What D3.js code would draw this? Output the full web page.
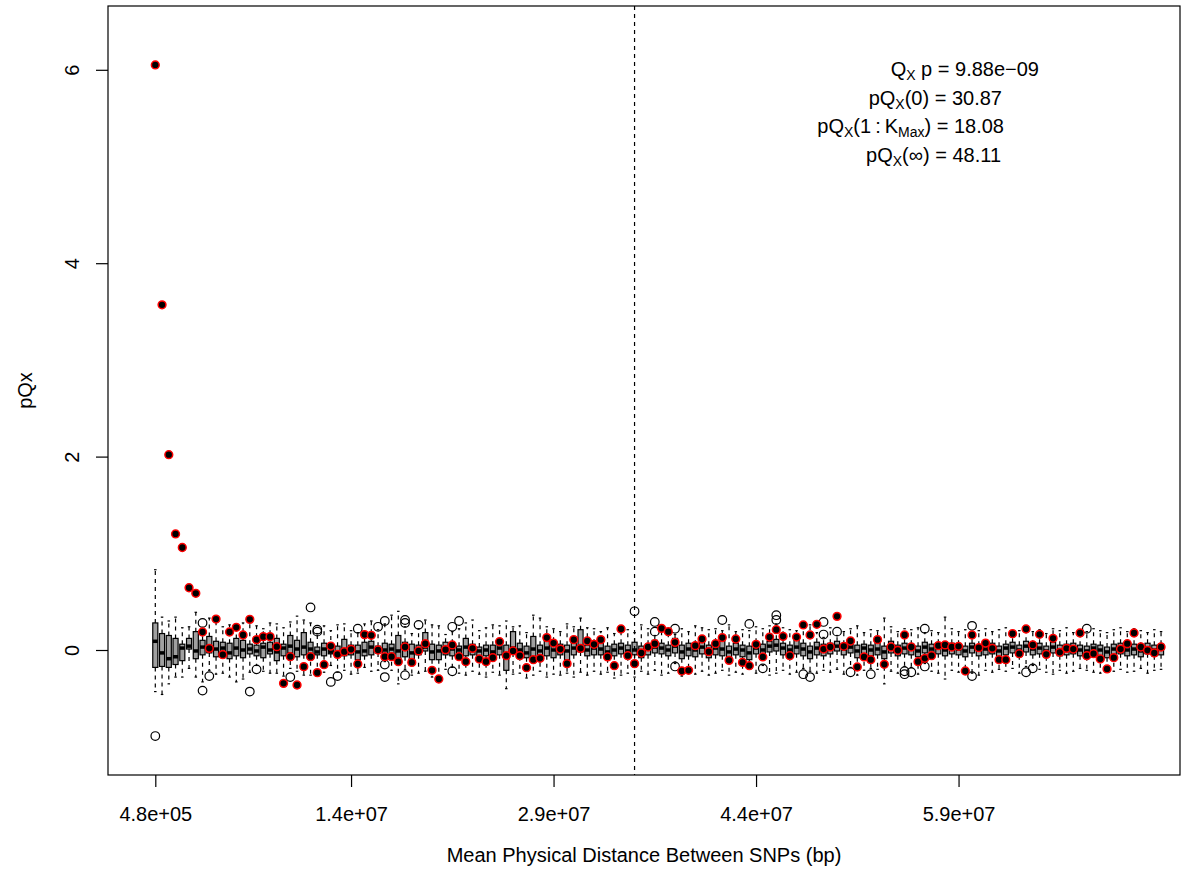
<!DOCTYPE html>
<html>
<head>
<meta charset="utf-8">
<script src="https://cdn.jsdelivr.net/npm/d3@7"></script>
<style>
  body { margin: 0; background: #fff; }
  text { font-family: "Liberation Sans", Arial, Helvetica, sans-serif; fill: #000; }
</style>
</head>
<body>
<svg id="chart" width="1193" height="878"></svg>
<script>
// ---- data -------------------------------------------------------------
// distance bins (boxplot positions)
const bins = d3.range(1, 151);

// x-axis ticks: bin position and mean physical distance label
const xTickBins = [1, 30, 60, 90, 120];
const xTickLabels = ["4.8e+05", "1.4e+07", "2.9e+07", "4.4e+07", "5.9e+07"];
const yTicks = [0, 2, 4, 6];

// null distribution per bin: hinges, median, whisker ends
const boxQ1 = [
  -0.18,-0.17,-0.18,-0.15,-0.11, 0.01,-0.09,-0.05,-0.03,-0.07,
  -0.05,-0.09,-0.06,-0.08,-0.04,-0.06,-0.08,-0.04,-0.11,-0.06,
  -0.03,-0.07,-0.05,-0.04,-0.05,-0.06,-0.04,-0.07,-0.06,-0.05,
  -0.10,-0.06,-0.05,-0.03,-0.08,-0.04,-0.11,-0.07,-0.12,-0.05,
  -0.01,-0.10,-0.10,-0.05,-0.06,-0.07,-0.06,-0.05,-0.06,-0.06,
  -0.07,-0.05,-0.21,-0.03,-0.07,-0.08,-0.09,-0.05,-0.06,-0.08,
  -0.05,-0.10,-0.05,-0.02,-0.06,-0.05,-0.05,-0.09,-0.06,-0.04,
  -0.07,-0.05,-0.08,-0.05,-0.03,-0.04,-0.06,-0.03,-0.09,-0.06,
  -0.07,-0.04,-0.08,-0.05,-0.06,-0.10,-0.05,-0.07,-0.10,-0.04,
  -0.07,-0.02,-0.01,-0.05,-0.07,-0.04,-0.06,-0.09,-0.05,-0.06,
  -0.04,-0.01,-0.05,-0.03,-0.08,-0.04,-0.06,-0.05,-0.09,-0.03,
  -0.06,-0.04,-0.05,-0.07,-0.03,-0.05,-0.04,-0.06,-0.04,-0.05,
  -0.07,-0.03,-0.06,-0.05,-0.04,-0.07,-0.05,-0.03,-0.06,-0.02,
  -0.05,-0.04,-0.07,-0.03,-0.06,-0.05,-0.04,-0.06,-0.07,-0.04,
  -0.06,-0.08,-0.05,-0.04,-0.06,-0.05,-0.07,-0.04,-0.06,-0.05
];
const boxMedian = [
   0.09,-0.03,-0.09,-0.07, 0.02, 0.04,-0.01, 0.03, 0.02, 0.01,
   0.02,-0.03, 0.02, 0.00, 0.01,-0.01, 0.03, 0.00,-0.02, 0.02,
   0.04, 0.01, 0.03, 0.01,-0.02, 0.01,-0.02,-0.03, 0.00, 0.00,
  -0.02,-0.01, 0.03, 0.02, 0.00, 0.01,-0.01, 0.02,-0.03, 0.01,
   0.03,-0.02,-0.01, 0.02, 0.01, 0.00, 0.03, 0.01,-0.01, 0.00,
  -0.02, 0.02,-0.04, 0.02, 0.00,-0.03, 0.01,-0.01, 0.02, 0.00,
   0.01,-0.01, 0.02, 0.04, 0.00, 0.02, 0.01,-0.02, 0.00, 0.02,
  -0.01, 0.00,-0.02, 0.01, 0.03, 0.02, 0.00, 0.04,-0.02, 0.01,
   0.00, 0.03,-0.01, 0.02, 0.01,-0.02, 0.01, 0.00,-0.03, 0.02,
   0.00, 0.04, 0.05, 0.02, 0.00, 0.03, 0.01,-0.02, 0.02, 0.00,
   0.02, 0.04, 0.01, 0.03,-0.01, 0.02, 0.00, 0.01,-0.02, 0.03,
   0.00, 0.02, 0.01,-0.01, 0.03, 0.01, 0.02, 0.00, 0.02, 0.01,
  -0.01, 0.03, 0.00, 0.01, 0.02,-0.01, 0.02, 0.03, 0.00, 0.04,
   0.01, 0.02,-0.01, 0.03, 0.00, 0.01, 0.02, 0.00,-0.01, 0.02,
   0.00,-0.02, 0.01, 0.02, 0.00, 0.01,-0.01, 0.02, 0.00, 0.01
];
const boxQ3 = [
  0.28,0.17,0.15,0.12,0.06,0.12,0.19,0.10,0.14,0.09,
  0.08,0.07,0.12,0.10,0.06,0.05,0.07,0.08,0.12,0.06,
  0.15,0.10,0.18,0.08,0.03,0.07,0.02,0.04,0.11,0.05,
  0.05,0.08,0.09,0.04,0.07,0.06,0.15,0.08,0.06,0.05,
  0.18,0.06,0.05,0.08,0.07,0.04,0.12,0.06,0.03,0.05,
  0.05,0.08,0.05,0.19,0.07,0.04,0.14,0.05,0.09,0.09,
  0.06,0.05,0.10,0.21,0.05,0.07,0.09,0.04,0.06,0.07,
  0.05,0.08,0.04,0.06,0.10,0.07,0.05,0.12,0.05,0.07,
  0.06,0.11,0.05,0.08,0.09,0.04,0.07,0.05,0.04,0.08,
  0.06,0.09,0.11,0.07,0.05,0.10,0.07,0.04,0.08,0.06,
  0.07,0.09,0.06,0.08,0.05,0.06,0.05,0.07,0.04,0.09,
  0.05,0.07,0.06,0.04,0.08,0.06,0.07,0.05,0.07,0.06,
  0.04,0.07,0.05,0.06,0.07,0.04,0.06,0.08,0.05,0.09,
  0.06,0.07,0.04,0.08,0.05,0.06,0.07,0.05,0.04,0.06,
  0.05,0.03,0.06,0.07,0.05,0.06,0.04,0.07,0.05,0.06
];
const whiskerLow = [
  -0.43,-0.46,-0.35,-0.28,-0.28,-0.19,-0.28,-0.33,-0.21,-0.25,
  -0.24,-0.28,-0.33,-0.30,-0.23,-0.16,-0.22,-0.24,-0.24,-0.27,
  -0.19,-0.22,-0.26,-0.26,-0.22,-0.23,-0.16,-0.23,-0.21,-0.25,
  -0.24,-0.18,-0.22,-0.21,-0.12,-0.21,-0.35,-0.20,-0.26,-0.24,
  -0.22,-0.28,-0.31,-0.20,-0.18,-0.24,-0.26,-0.22,-0.25,-0.28,
  -0.23,-0.26,-0.40,-0.25,-0.24,-0.29,-0.26,-0.22,-0.28,-0.25,
  -0.26,-0.24,-0.28,-0.23,-0.26,-0.22,-0.25,-0.23,-0.29,-0.26,
  -0.24,-0.28,-0.22,-0.25,-0.21,-0.26,-0.24,-0.14,-0.27,-0.23,
  -0.25,-0.22,-0.26,-0.24,-0.21,-0.26,-0.23,-0.25,-0.20,-0.24,
  -0.16,-0.26,-0.24,-0.21,-0.25,-0.23,-0.19,-0.22,-0.24,-0.21,
  -0.23,-0.20,-0.25,-0.18,-0.26,-0.21,-0.19,-0.20,-0.35,-0.22,
  -0.24,-0.17,-0.18,-0.25,-0.14,-0.22,-0.24,-0.30,-0.21,-0.23,
  -0.20,-0.24,-0.26,-0.21,-0.23,-0.20,-0.22,-0.19,-0.24,-0.17,
  -0.16,-0.20,-0.23,-0.25,-0.21,-0.24,-0.22,-0.19,-0.21,-0.23,
  -0.24,-0.21,-0.22,-0.20,-0.23,-0.22,-0.19,-0.24,-0.21,-0.20
];
const whiskerHigh = [
  0.83,0.34,0.30,0.34,0.23,0.24,0.39,0.22,0.33,0.31,
  0.24,0.26,0.26,0.28,0.33,0.25,0.22,0.28,0.27,0.23,
  0.29,0.35,0.31,0.28,0.17,0.25,0.20,0.26,0.27,0.20,
  0.18,0.27,0.30,0.21,0.27,0.36,0.40,0.24,0.17,0.22,
  0.31,0.26,0.25,0.16,0.19,0.22,0.28,0.31,0.20,0.23,
  0.26,0.25,0.30,0.24,0.25,0.18,0.36,0.33,0.24,0.22,
  0.19,0.27,0.24,0.33,0.23,0.22,0.19,0.23,0.17,0.24,
  0.21,0.18,0.26,0.22,0.15,0.20,0.21,0.16,0.22,0.19,
  0.25,0.23,0.21,0.22,0.20,0.26,0.19,0.21,0.20,0.24,
  0.22,0.25,0.27,0.23,0.21,0.20,0.24,0.26,0.18,0.13,
  0.23,0.15,0.19,0.22,0.25,0.18,0.21,0.20,0.33,0.24,
  0.19,0.22,0.21,0.23,0.18,0.20,0.18,0.34,0.22,0.19,
  0.21,0.17,0.20,0.22,0.19,0.21,0.23,0.18,0.20,0.22,
  0.19,0.21,0.17,0.22,0.20,0.23,0.18,0.21,0.19,0.22,
  0.20,0.18,0.21,0.23,0.19,0.22,0.20,0.18,0.21,0.19
];

// outlying null values (bin, value)
const outlierBin = [1,8,8,9,15,16,21,24,25,25,27,28,31,34,35,35,35,38,38,38,40,45,45,46,
  72,75,75,78,78,85,89,91,93,93,97,98,100,100,102,104,107,112,112,113,115,115,122,122,130,131,139];
const outlierValue = [-0.89,0.28,-0.42,-0.27,-0.43,-0.20,-0.28,0.44,0.21,0.19,-0.33,-0.27,0.22,0.24,0.30,-0.15,-0.28,0.31,0.28,-0.26,0.26,0.24,-0.22,0.30,
  0.40,0.29,0.19,0.22,-0.17,0.31,0.27,-0.19,0.36,0.31,-0.25,-0.28,0.29,0.16,0.19,-0.23,-0.25,-0.22,-0.25,-0.23,-0.17,0.22,0.25,-0.27,-0.23,-0.19,0.22];

// observed pQx per bin
const observed = [
  6.05, 3.57, 2.02, 1.20, 1.06, 0.644, 0.586, 0.186, 0.017, 0.32,
  -0.048, 0.186, 0.235, 0.155, 0.317, 0.107, 0.138, 0.138, 0.034, -0.345,
  -0.069, -0.362, -0.172, -0.069, -0.234, -0.152, 0.041, -0.045, -0.017, 0.007,
  -0.145, 0.159, 0.152, 0.000, -0.069, -0.069, -0.121, 0.031, -0.128, -0.010,
  0.065, -0.21, -0.30, 0.003, 0.052, -0.069, -0.121, 0.017, -0.093, -0.121,
  -0.079, 0.086, -0.059, -0.010, -0.059, -0.183, -0.10, -0.086, 0.128, 0.072,
  0.010, -0.141, 0.107, 0.017, 0.093, 0.059, 0.107, -0.072, -0.162, 0.217,
  -0.059, -0.141, -0.031, 0.031, 0.065, 0.224, 0.19, 0.079, -0.217, -0.21,
  0.045, 0.114, -0.017, 0.065, 0.128, -0.107, 0.114, -0.128, -0.162, 0.059,
  -0.072, 0.134, 0.21, 0.141, -0.059, 0.134, 0.259, 0.155, 0.266, 0.010,
  0.031, 0.348, 0.038, 0.093, -0.176, -0.072, -0.10, 0.107, -0.148, 0.031,
  -0.003, 0.155, 0.031, -0.121, -0.086, -0.059, 0.045, 0.052, 0.031, 0.038,
  -0.217, 0.155, 0.024, 0.072, 0.017, -0.10, -0.10, 0.169, -0.038, 0.217,
  0.052, 0.162, -0.045, 0.121, -0.024, 0.017, 0.010, 0.176, -0.059, -0.038,
  -0.093, -0.196, -0.079, 0.010, 0.065, 0.176, 0.031, -0.003, -0.031, 0.031
];

// bin marked by the vertical reference line
const markedBin = 72;

// summary statistics shown in the top-right corner
const statLines = [
  { parts: [["Q", 0], ["X", 1], [" p = 9.88e\u221209", 0]], right: 1039, base: 75.5 },
  { parts: [["pQ", 0], ["X", 1], ["(0) = 30.87", 0]], right: 1002, base: 104.5 },
  { parts: [["pQ", 0], ["X", 1], ["(1\u2009:\u2009K", 0], ["Max", 1], [") = 18.08", 0]], right: 1004, base: 133 },
  { parts: [["pQ", 0], ["X", 1], ["(\u221e) = 48.11", 0]], right: 1001, base: 161.5 }
];

// ---- layout -----------------------------------------------------------
const frame = { left: 108, right: 1180, top: 6, bottom: 775 };
const svg = d3.select("#chart");

const x = d3.scaleLinear().domain([1, 150]).range([155.3, 1161.05]);
const y = d3.scaleLinear().domain([0, 6]).range([650, 69.8]);

const step = x(2) - x(1);
const boxW = step * 0.75;
const stapleW = boxW * 0.5;
const lw = 1.2;

// ---- boxplots ---------------------------------------------------------
const gBox = svg.append("g");
bins.forEach((b, i) => {
  const cx = x(b);
  const g = gBox.append("g");
  // whiskers
  g.append("line").attr("x1", cx).attr("x2", cx)
    .attr("y1", y(boxQ3[i])).attr("y2", y(whiskerHigh[i]))
    .attr("stroke", "#000").attr("stroke-width", lw).attr("stroke-dasharray", "4,4");
  g.append("line").attr("x1", cx).attr("x2", cx)
    .attr("y1", y(boxQ1[i])).attr("y2", y(whiskerLow[i]))
    .attr("stroke", "#000").attr("stroke-width", lw).attr("stroke-dasharray", "4,4");
  // staples
  [whiskerHigh[i], whiskerLow[i]].forEach(v => {
    g.append("line").attr("x1", cx - stapleW / 2).attr("x2", cx + stapleW / 2)
      .attr("y1", y(v)).attr("y2", y(v))
      .attr("stroke", "#000").attr("stroke-width", lw);
  });
  // box
  g.append("rect").attr("x", cx - boxW / 2).attr("width", boxW)
    .attr("y", y(boxQ3[i])).attr("height", y(boxQ1[i]) - y(boxQ3[i]))
    .attr("fill", "#a0a0a0").attr("stroke", "#000").attr("stroke-width", lw);
  // median
  g.append("line").attr("x1", cx - boxW / 2).attr("x2", cx + boxW / 2)
    .attr("y1", y(boxMedian[i])).attr("y2", y(boxMedian[i]))
    .attr("stroke", "#000").attr("stroke-width", 3.5);
});

// outliers
svg.append("g").selectAll("circle")
  .data(outlierBin.map((b, i) => [b, outlierValue[i]]))
  .join("circle")
  .attr("cx", d => x(d[0])).attr("cy", d => y(d[1])).attr("r", 4.3)
  .attr("fill", "none").attr("stroke", "#000").attr("stroke-width", 1.2);

// observed values
svg.append("g").selectAll("circle")
  .data(bins.map((b, i) => [b, observed[i]]))
  .join("circle")
  .attr("cx", d => x(d[0])).attr("cy", d => y(d[1])).attr("r", 3.9)
  .attr("fill", "#000").attr("stroke", "#ff0000").attr("stroke-width", 1.5);

// vertical reference line
svg.append("line")
  .attr("x1", x(markedBin)).attr("x2", x(markedBin))
  .attr("y1", frame.top).attr("y2", frame.bottom)
  .attr("stroke", "#000").attr("stroke-width", 1.2).attr("stroke-dasharray", "4,4");

// ---- axes -------------------------------------------------------------
const xAxis = d3.axisBottom(x)
  .tickValues(xTickBins)
  .tickFormat((d, i) => xTickLabels[i])
  .tickSize(12).tickSizeOuter(0).tickPadding(19.5);
const gx = svg.append("g").attr("transform", `translate(0,${frame.bottom})`).call(xAxis);
gx.select(".domain").remove();
gx.selectAll(".tick line").attr("stroke-width", 1.2);
gx.selectAll(".tick text").attr("font-size", 20).attr("font-family", null);

const yAxis = d3.axisLeft(y).tickValues(yTicks).tickFormat(d3.format("d"))
  .tickSize(12).tickSizeOuter(0);
const gy = svg.append("g").attr("transform", `translate(${frame.left},0)`).call(yAxis);
gy.select(".domain").remove();
gy.selectAll(".tick line").attr("stroke-width", 1.2);
gy.selectAll(".tick text")
  .attr("font-size", 20).attr("font-family", null)
  .attr("x", 0).attr("dy", 0).attr("text-anchor", "middle")
  .attr("transform", "translate(-28.7,0) rotate(-90)");

// plot frame
svg.append("rect")
  .attr("x", frame.left).attr("y", frame.top)
  .attr("width", frame.right - frame.left).attr("height", frame.bottom - frame.top)
  .attr("fill", "none").attr("stroke", "#000").attr("stroke-width", 1.2);

// axis titles
svg.append("text")
  .attr("x", (frame.left + frame.right) / 2).attr("y", 862)
  .attr("text-anchor", "middle").attr("font-size", 20)
  .text("Mean Physical Distance Between SNPs (bp)");
svg.append("text")
  .attr("transform", `translate(32,${(frame.top + frame.bottom) / 2}) rotate(-90)`)
  .attr("text-anchor", "middle").attr("font-size", 20)
  .text("pQx");

// ---- statistics block ---------------------------------------------------
statLines.forEach(line => {
  const t = svg.append("text")
    .attr("x", line.right).attr("y", line.base)
    .attr("text-anchor", "end").attr("font-size", 20);
  let shifted = false;
  line.parts.forEach(([s, sub]) => {
    const ts = t.append("tspan").text(s);
    if (sub && !shifted) { ts.attr("dy", 4).attr("font-size", 14); shifted = true; }
    else if (sub) { ts.attr("font-size", 14); }
    else if (shifted) { ts.attr("dy", -4); shifted = false; }
  });
});
</script>
</body>
</html>
